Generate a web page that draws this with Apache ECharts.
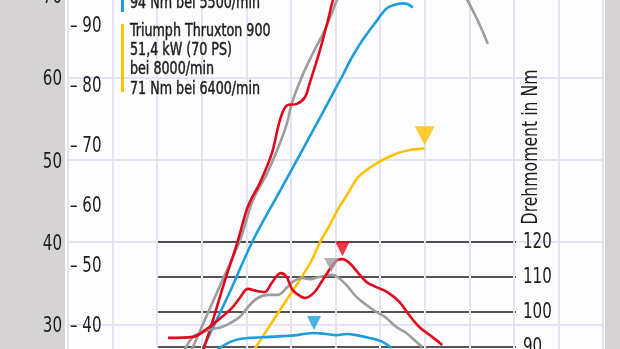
<!DOCTYPE html>
<html>
<head>
<meta charset="utf-8">
<script src="https://cdn.jsdelivr.net/npm/echarts@6/dist/echarts.min.js"></script>
<style>
  html, body { margin: 0; padding: 0; background: #fff; }
  #chart {
    width: 620px; height: 349px;
    background: linear-gradient(to right, #d5d3d4 0, #d5d3d4 65px, #fdfdff 65px, #fdfdff 605px, #d5d3d4 605px);
  }
</style>
</head>
<body>
<div id="chart"></div>
<script>
// Drehzahl-Achse (U/min)
const rpmTicks = [0, 12000];
const torqueRpmRange = [2000, 10000];

// Achsen-Beschriftungen
const kwTicks = [20, 30, 40, 50, 60, 70, 80];
const psTicks = [40, 50, 60, 70, 80, 90];
const nmTicks = [80, 90, 100, 110, 120];

// Leistung in kW über Drehzahl
const redPower = [[3040,27.0],[3250,30.5],[3500,35.0],[3789,39.8],[4013,44.0],[4126,45.4],[4305,47.2],[4574,50.8],[4753,54.8],[4910,56.6],[5134,56.8],[5314,57.6],[5426,59.4],[5650,63.3],[5829,66.9],[5941,69.4],[6100,72.0],[6600,76.5],[7200,79.0],[7800,79.5],[8400,78.0]];
const grayPower = [[2780,27.0],[3408,34.7],[3856,40.2],[4148,45.1],[4462,48.3],[4753,52.0],[4910,54.4],[5022,56.9],[5246,60.1],[5470,62.7],[5717,65.3],[5919,67.8],[6031,69.4],[6300,71.8],[6800,74.5],[7300,76.0],[7800,76.3],[8300,74.8],[8700,72.3],[8960,69.4],[9200,66.8],[9417,64.1]];
const bluePower = [[3027,27.1],[3600,33.6],[4148,40.2],[4753,46.2],[5269,51.3],[5650,55.1],[5986,58.5],[6166,60.3],[6323,62.0],[6614,64.6],[6928,66.9],[7152,68.4],[7376,68.9],[7511,69.0],[7623,68.9],[7735,68.5]];
const yellowPower = [[4193,27.1],[4821,32.3],[5426,37.4],[5650,39.95],[5874,42.1],[6098,44.4],[6255,45.7],[6480,47.7],[6704,48.8],[6928,49.6],[7219,50.4],[7444,50.9],[7668,51.2],[7847,51.3],[8000,51.4]];

// Drehmoment in Nm über Drehzahl
const redTorque = [[2244,92.6],[2800,92.9],[3133,95.4],[3444,98.6],[3667,101.1],[3844,104.0],[4022,106.6],[4222,106.0],[4400,105.7],[4556,108.3],[4756,111.1],[4889,110.0],[5022,106.3],[5222,104.3],[5289,104.0],[5511,105.7],[5689,109.1],[5889,112.9],[6022,114.9],[6133,115.1],[6289,114.0],[6467,111.4],[6667,108.6],[6889,107.1],[7133,105.7],[7400,102.9],[7622,99.1],[7844,95.7],[8111,93.1],[8356,90.6]];
const grayTorque = [[2622,89.4],[2800,92.9],[2956,94.0],[3222,95.1],[3444,95.7],[3667,97.1],[3844,98.6],[4067,102.0],[4244,104.0],[4467,104.9],[4689,104.9],[4889,106.9],[5022,108.6],[5222,109.7],[5400,109.4],[5622,110.0],[5889,110.6],[6022,110.0],[6222,107.7],[6444,104.3],[6667,102.0],[6889,100.0],[7111,98.3],[7333,95.7],[7556,94.0],[7733,92.0],[7911,90.0]];
const blueTorque = [[3356,89.4],[3622,91.4],[3844,92.3],[4067,92.6],[4511,92.9],[4800,93.1],[5111,93.4],[5300,93.8],[5500,94.0],[5778,93.7],[6000,93.4],[6222,93.7],[6444,93.4],[6733,92.6],[7000,91.6],[7222,89.8]];

// Legende
const blueLegendTail = '94 Nm bei 5500/min';
const yellowLegend = ['Triumph Thruxton 900', '51,4 kW (70 PS)', 'bei 8000/min', '71 Nm bei 6400/min'];
const torqueTitle = 'Drehmoment in Nm';

const C = { red: '#e3061a', gray: '#9d9d9c', blue: '#1d9ddc', yellow: '#fcc200', ink: '#1d1d1b', grid: '#e0e4f4' };
const FONT = "'Liberation Sans Narrow', 'DejaVu Sans Condensed', sans-serif";
const NARROW = 0.8;   // horizontal squeeze for the condensed look

function peak(arr) {
  return arr.reduce((a, b) => (b[1] > a[1] ? b : a));
}

function curve(data, color, xi, yi) {
  return {
    type: 'line', data, xAxisIndex: xi, yAxisIndex: yi,
    smooth: 0.35, showSymbol: false, clip: false, silent: true,
    lineStyle: { color, width: 2.6 }
  };
}

function marker(data, color, xi, yi, size) {
  return {
    type: 'scatter', data: [peak(data)], xAxisIndex: xi, yAxisIndex: yi,
    symbol: 'triangle', symbolRotate: 180, symbolSize: size,
    symbolOffset: [0, -(size[1] / 2 + 3)], clip: false, silent: true, z: 5,
    itemStyle: { color }
  };
}

const hiddenLabels = { show: false };

const chart = echarts.init(document.getElementById('chart'), null, { renderer: 'canvas' });

chart.setOption({
  animation: false,
  grid: [
    { left: 68, right: 17, top: -87.2, bottom: -57.8, outerBoundsMode: 'none', containLabel: false },   // kW
    { left: 68, right: 17, top: 25, bottom: 24, outerBoundsMode: 'none', containLabel: false },         // PS
    { left: 157, right: 104, top: 242, bottom: -33, outerBoundsMode: 'none', containLabel: false }      // Nm
  ],
  xAxis: [
    {
      gridIndex: 0, type: 'value', min: rpmTicks[0], max: rpmTicks[1], interval: 1000,
      axisLine: { show: false }, axisTick: { show: false }, axisLabel: hiddenLabels,
      splitLine: { show: true, lineStyle: { color: C.grid, width: 2 } }
    },
    { gridIndex: 1, type: 'value', min: rpmTicks[0], max: rpmTicks[1], show: false },
    { gridIndex: 2, type: 'value', min: torqueRpmRange[0], max: torqueRpmRange[1], show: false }
  ],
  yAxis: [
    {
      gridIndex: 0, type: 'value', min: kwTicks[0], max: kwTicks[kwTicks.length - 1], interval: 10,
      axisLine: { show: false }, axisTick: { show: false }, axisLabel: hiddenLabels,
      splitLine: { show: true, lineStyle: { color: C.grid, width: 2 } }
    },
    {
      gridIndex: 1, type: 'value', min: psTicks[0], max: psTicks[psTicks.length - 1], interval: 10,
      axisLine: { show: false }, axisTick: { show: false }, splitLine: { show: false }, axisLabel: hiddenLabels
    },
    {
      gridIndex: 2, type: 'value', position: 'right', min: nmTicks[0], max: nmTicks[nmTicks.length - 1], interval: 10,
      axisLine: { show: false }, axisTick: { show: false }, axisLabel: hiddenLabels,
      splitLine: { show: true, lineStyle: { color: '#1d1d1b', width: 1.6 } }
    }
  ],
  series: [
    curve(yellowPower, C.yellow, 0, 0),
    curve(bluePower, C.blue, 0, 0),
    curve(grayPower, C.gray, 0, 0),
    curve(redPower, C.red, 0, 0),
    curve(blueTorque, C.blue, 2, 2),
    curve(grayTorque, C.gray, 2, 2),
    curve(redTorque, C.red, 2, 2),
    marker(yellowPower, C.yellow, 0, 0, [20, 19]),
    marker(bluePower, C.blue, 0, 0, [15, 14]),
    marker(grayPower, C.gray, 0, 0, [15, 14]),
    marker(redPower, C.red, 0, 0, [15, 14]),
    marker(blueTorque, C.blue, 2, 2, [14, 14]),
    marker(grayTorque, C.gray, 2, 2, [15, 14]),
    marker(redTorque, C.red, 2, 2, [15, 15])
  ]
});

// Tick labels in a condensed face, placed through the axes' own scales
function tickText(x, y, text, align) {
  return {
    type: 'text', x, y, scaleX: NARROW, z: 10,
    style: { text: String(text), font: '21px ' + FONT, fill: C.ink, align, verticalAlign: 'middle' }
  };
}

const labels = [];
kwTicks.forEach(v => {
  const p = chart.convertToPixel({ xAxisIndex: 0, yAxisIndex: 0 }, [rpmTicks[0], v]);
  labels.push(tickText(p[0] - 6, p[1] + 2.5, v, 'right'));
});
psTicks.forEach(v => {
  const p = chart.convertToPixel({ xAxisIndex: 1, yAxisIndex: 1 }, [rpmTicks[0], v]);
  labels.push(tickText(p[0] + 2, p[1] + 2, '– ' + v, 'left'));
});
nmTicks.forEach(v => {
  const p = chart.convertToPixel({ xAxisIndex: 2, yAxisIndex: 2 }, [torqueRpmRange[1], v]);
  labels.push(tickText(p[0] + 7, p[1] + 1, v, 'left'));
});

const legendFont = '17px ' + FONT;
const legendStyle = { font: legendFont, fill: C.ink, stroke: C.ink, lineWidth: 0.45 };
chart.setOption({
  graphic: labels.concat([
    { type: 'rect', shape: { x: 121, y: -30, width: 3, height: 42 }, style: { fill: C.blue } },
    { type: 'text', x: 130, y: 4, scaleX: 0.83,
      style: Object.assign({ text: blueLegendTail, verticalAlign: 'middle' }, legendStyle) },
    { type: 'rect', shape: { x: 121, y: 24, width: 3, height: 68 }, style: { fill: C.yellow } },
    { type: 'text', x: 130, y: 21.5, scaleX: 0.83,
      style: Object.assign({ text: yellowLegend.join('\n'), lineHeight: 19.4, verticalAlign: 'top' }, legendStyle) },
    { type: 'text', x: 532, y: 147, rotation: Math.PI / 2, scaleX: 0.83,
      style: { text: torqueTitle, font: '21px ' + FONT, fill: C.ink, align: 'center', verticalAlign: 'middle' } }
  ])
});
</script>
</body>
</html>
